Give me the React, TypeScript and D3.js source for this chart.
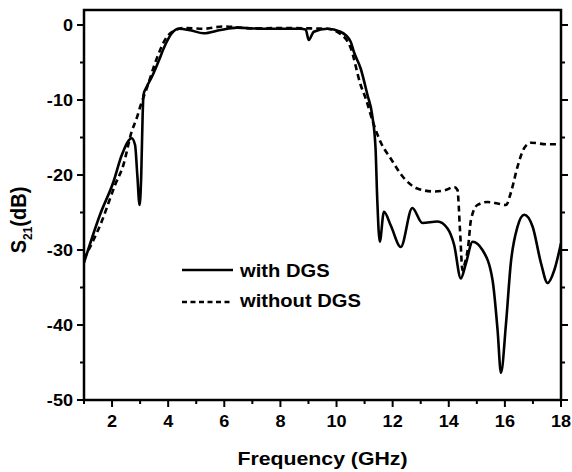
import React from "react";
import * as d3 from "d3";

const withFreq = [1.0, 1.57, 2.05, 2.35, 2.7, 2.82, 2.9, 2.98, 3.04, 3.09, 3.12, 3.24, 3.42, 3.65, 3.89, 4.13, 4.37, 4.79, 5.26, 5.86, 6.45, 7.4, 8.0, 8.71, 8.9, 9.01, 9.19, 9.67, 10.14, 10.5, 10.62, 10.86, 11.1, 11.27, 11.39, 11.45, 11.54, 11.69, 11.93, 12.29, 12.7, 13.06, 13.6, 13.95, 14.19, 14.43, 14.61, 14.85, 15.2, 15.56, 15.74, 15.86, 16.04, 16.21, 16.45, 16.69, 16.99, 17.29, 17.52, 17.76, 18.0];
const withDGS = [-31.7, -25.3, -20.9, -17.3, -15.1, -16.0, -20.0, -24.0, -20.0, -12.0, -9.3, -8.2, -6.9, -4.9, -2.7, -1.1, -0.5, -0.7, -1.1, -0.67, -0.35, -0.5, -0.5, -0.5, -0.6, -2.0, -0.9, -0.5, -0.9, -2.2, -3.6, -5.8, -9.3, -12.0, -16.4, -23.1, -28.9, -24.9, -26.7, -29.6, -24.4, -26.4, -26.2, -27.1, -29.3, -33.8, -31.8, -28.9, -30.0, -34.0, -40.7, -46.4, -39.8, -31.8, -26.9, -25.3, -26.9, -31.8, -34.4, -32.7, -29.1];

const withoutFreq = [1.0, 1.63, 2.11, 2.4, 2.7, 2.88, 3.02, 3.24, 3.6, 3.95, 4.25, 4.54, 5.25, 5.97, 7.04, 8.0, 9.0, 9.67, 10.14, 10.5, 10.86, 11.04, 11.33, 11.57, 11.93, 12.4, 12.88, 13.48, 13.89, 14.19, 14.31, 14.4, 14.49, 14.57, 14.69, 14.79, 15.02, 15.38, 15.74, 16.04, 16.21, 16.45, 16.69, 16.93, 17.52, 18.0];
const withoutDGS = [-31.2, -26.2, -21.3, -18.7, -14.2, -12.4, -10.7, -8.4, -4.4, -1.6, -0.7, -0.4, -0.5, -0.2, -0.45, -0.4, -0.45, -0.5, -1.2, -3.0, -8.0, -9.8, -13.3, -15.6, -17.8, -20.4, -21.8, -22.2, -22.0, -21.6, -22.0, -27.3, -32.7, -31.8, -29.6, -26.0, -24.0, -23.6, -23.8, -24.0, -22.4, -18.9, -16.4, -15.7, -15.9, -15.9];

const xTicks = [2, 4, 6, 8, 10, 12, 14, 16, 18];
const xMinor = [1, 3, 5, 7, 9, 11, 13, 15, 17];
const yTicks = [0, -10, -20, -30, -40, -50];
const yMinor = [-5, -15, -25, -35, -45];

const FONT = "'Liberation Sans', Arial, sans-serif";
const SX = 1.13;

export default function App() {
  const W = 572, H = 472;
  const L = 84, R = 561, T = 10, B = 400;
  const x = d3.scaleLinear().domain([1, 18]).range([L, R]);
  const y = d3.scaleLinear().domain([-50, 2]).range([B, T]);
  const line = d3
    .line<[number, number]>()
    .x((d) => x(d[0]))
    .y((d) => y(d[1]))
    .curve(d3.curveMonotoneX);
  const solid = line(withFreq.map((f, i) => [f, withDGS[i]]) as [number, number][]) || "";
  const dashed = line(withoutFreq.map((f, i) => [f, withoutDGS[i]]) as [number, number][]) || "";

  return (
    <svg width={W} height={H} style={{ position: "absolute", left: 0, top: 0 }}>
      <rect width={W} height={H} fill="#fff" />
      <defs>
        <clipPath id="plot">
          <rect x={L} y={T} width={R - L} height={B - T} />
        </clipPath>
      </defs>
      <g clipPath="url(#plot)" fill="none" stroke="#000" strokeWidth={2.6} strokeLinejoin="round">
        <path d={dashed} strokeDasharray="6,4" />
        <path d={solid} />
      </g>
      <rect x={L} y={T} width={R - L} height={B - T} fill="none" stroke="#000" strokeWidth={2.5} />
      <g stroke="#000" strokeWidth={2}>
        {xTicks.map((t) => (
          <line key={"xt" + t} x1={x(t)} x2={x(t)} y1={B} y2={B + 7} />
        ))}
        {xMinor.map((t) => (
          <line key={"xm" + t} x1={x(t)} x2={x(t)} y1={B} y2={B + 4} />
        ))}
        {yTicks.map((t) => (
          <g key={"yt" + t}>
            <line x1={L - 7} x2={L} y1={y(t)} y2={y(t)} />
            <line x1={R} x2={R + 7} y1={y(t)} y2={y(t)} />
          </g>
        ))}
        {yMinor.map((t) => (
          <g key={"ym" + t}>
            <line x1={L - 4} x2={L} y1={y(t)} y2={y(t)} />
            <line x1={R} x2={R + 4} y1={y(t)} y2={y(t)} />
          </g>
        ))}
      </g>
      <g fontFamily={FONT} fontWeight="bold" fontSize={16} fill="#000">
        {xTicks.map((t) => (
          <text key={"xl" + t} transform={`translate(${x(t)},427) scale(${SX},1)`} textAnchor="middle">
            {t}
          </text>
        ))}
        {yTicks.map((t) => (
          <text key={"yl" + t} transform={`translate(73,${y(t) + 6}) scale(${SX},1)`} textAnchor="end">
            {t}
          </text>
        ))}
        <text transform={`translate(${(L + R) / 2},465) scale(1.12,1)`} textAnchor="middle" fontSize={19}>
          Frequency (GHz)
        </text>
        <text transform={`translate(26,220) scale(1.12,1) rotate(-90)`} textAnchor="middle" fontSize={20}>
          S<tspan fontSize={12} dy={5}>21</tspan>
          <tspan dy={-5}>(dB)</tspan>
        </text>
      </g>
      <g stroke="#000" strokeWidth={2.6}>
        <line x1={182} x2={233} y1={270} y2={270} />
        <line x1={182} x2={233} y1={302} y2={302} strokeDasharray="5,3.5" />
      </g>
      <g fontFamily={FONT} fontWeight="bold" fontSize={18} fill="#000">
        <text transform={`translate(240,277) scale(1.12,1)`}>with DGS</text>
        <text transform={`translate(240,307) scale(1.12,1)`}>without DGS</text>
      </g>
    </svg>
  );
}
